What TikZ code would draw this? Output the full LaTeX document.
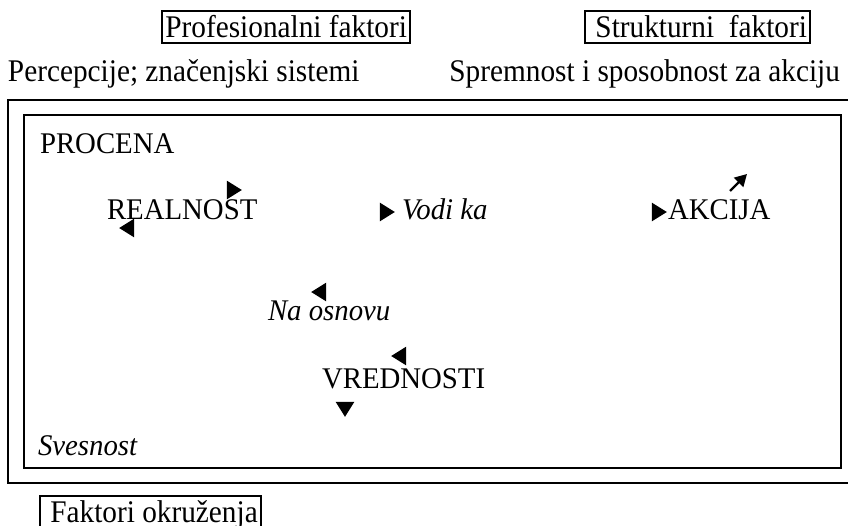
\documentclass[tikz,border=0pt]{standalone}
\usepackage{fontspec}
\setmainfont[FakeStretch=0.96]{Liberation Serif}
\newfontfamily\headfont[FakeStretch=0.93]{Liberation Serif}
\usetikzlibrary{shapes.geometric,arrows.meta}
\begin{document}
\begin{tikzpicture}[x=1pt,y=-1pt,
  txt/.style={inner sep=0pt,outer sep=0pt,font=\fontsize{30}{34}\selectfont},
  head/.style={inner sep=0pt,outer sep=0pt,font=\headfont\fontsize{31.5}{34}\selectfont},
  boxed/.style={head,draw,line width=1.8pt,inner xsep=3pt,inner ysep=0pt,
    text height=26pt,text depth=6pt},
  tri/.style={isosceles triangle,isosceles triangle apex angle=64,fill=black,
    inner sep=0pt,minimum height=15pt,minimum width=15pt,anchor=center},
  frame/.style={line width=1.8pt}]
\useasboundingbox (0,0) rectangle (848,525);

% frames
\draw[frame] (850,100) -- (8,100) -- (8,483) -- (850,483);
\draw[frame] (24,115) rectangle (841,468);

% factor boxes and headings
\node[boxed,anchor=base east] (prof) at (410,37) {Profesionalni faktori};
\node[boxed,anchor=base east] (strukt) at (810,37) {\ Strukturni\ \ faktori};
\node[head,anchor=base west] (perc) at (8,81) {Percepcije; značenjski sistemi};
\node[head,anchor=base east] (sprem) at (840,81) {Spremnost i sposobnost za akciju};
\node[boxed,anchor=base west] (okr) at (40,522) {\ Faktori okruženja};

% inner labels
\node[txt,anchor=base west] (proc) at (40,153) {PROCENA};
\node[txt,anchor=base west] (real) at (107,219) {REALNOST};
\node[txt,anchor=base west] (vodi) at (402,219) {\itshape Vodi ka};
\node[txt,anchor=base west] (akc) at (668,219) {AKCIJA};
\node[txt,anchor=base west] (osn) at (268,320) {\itshape Na osnovu};
\node[txt,anchor=base west] (vred) at (322,388) {VREDNOSTI};
\node[txt,anchor=base west] (sves) at (38,455) {\itshape Svesnost};

% arrowheads
\node[tri] (t1) at (232,190) {};
\node[tri,shape border rotate=180] (t2) at (129,228) {};
\node[tri] (t3) at (385,212) {};
\node[tri] (t4) at (657,212) {};
\node[tri,shape border rotate=180] (t5) at (321,292) {};
\node[tri,shape border rotate=180] (t6) at (401,356) {};
\node[tri,shape border rotate=270] (t7) at (345,407) {};
\coordinate (a0) at (730,191);
\coordinate (a1) at (747,174);
\draw[line width=2.2pt,-{Triangle[length=12pt,width=13pt]}] (a0) -- (a1);
\end{tikzpicture}
\end{document}
